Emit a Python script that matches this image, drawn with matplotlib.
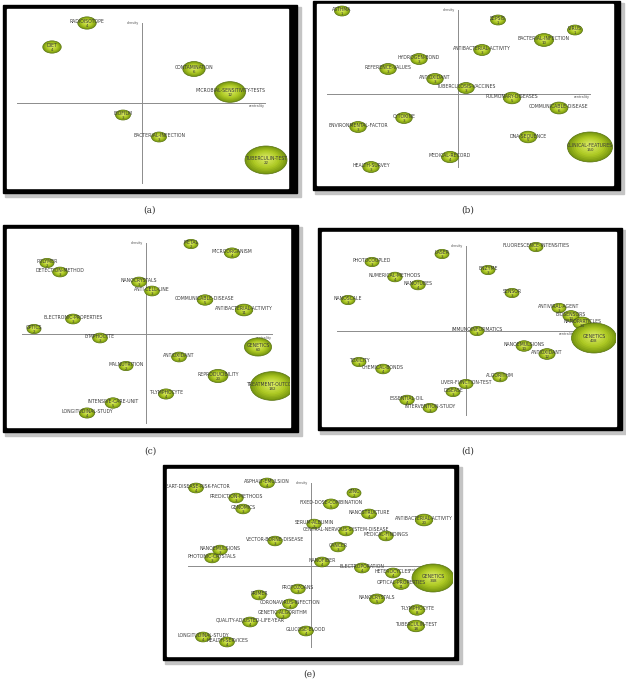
import matplotlib
matplotlib.use("Agg")
import matplotlib.pyplot as plt
from matplotlib.patches import Ellipse, Rectangle
import numpy as np

# ---------------- data (centrality / density relative to the cross, counts) -------------
a_labels = ["RADIOISOTOPE", "DIET", "CONTAMINATION", "MICROBIAL-SENSITIVITY-TESTS",
            "BIOFILM", "BACTERIAL-INFECTION", "TUBERCULIN-TEST"]
a_centrality = [-55, -90, 52, 88, -19, 17, 124]
a_density = [80, 56, 34, 11, -12, -34, -57]
a_counts = [4, 4, 6, 12, 3, 3, 22]

b_labels = ["ASTHMA", "SEPSIS", "VIRUS", "BACTERIAL-INFECTION", "ANTIBACTERIAL-ACTIVITY",
            "HYDROGEN-BOND", "REFERENCE-VALUES", "ANTIOXIDANT", "TUBERCULOSIS-VACCINES",
            "PULMONARY-DISEASES", "COMMUNICABLE-DISEASE", "CYTOKINE", "ENVIRONMENTAL-FACTOR",
            "DNA-SEQUENCE", "CLINICAL-FEATURES", "MEDICAL-RECORD", "HEALTH-SURVEY"]
b_centrality = [-116, 40, 117, 86, 24, -39, -70, -23, 8, 54, 101, -54, -100, 70, 132, -8, -87]
b_density = [83, 74, 64, 54, 44, 35, 25, 15, 6, -4, -14, -24, -33, -43, -53, -63, -73]
b_counts = [1, 1, 1, 10, 3, 3, 3, 3, 3, 5, 6, 3, 3, 5, 150, 4, 3]

c_labels = ["METAL", "MICROORGANISM", "POLYMER", "DETECTION-METHOD", "NANOCRYSTALS",
            "ANTI-CELL-LINE", "COMMUNICABLE-DISEASE", "ANTIBACTERIAL-ACTIVITY",
            "ELECTRONIC-PROPERTIES", "OPTICS", "LYMPHOCYTE", "GENETICS", "ANTIOXIDANT",
            "MALNUTRITION", "REPRODUCIBILITY", "TREATMENT-OUTCOME", "T-LYMPHOCYTE",
            "INTENSIVE-CARE-UNIT", "LONGITUDINAL-STUDY"]
c_centrality = [45, 86, -99, -86, -7, 6, 59, 98, -73, -112, -46, 112, 33, -20, 72, 126, 20, -33, -59]
c_density = [90, 81, 71, 62, 52, 43, 34, 24, 15, 5, -4, -13, -23, -32, -42, -52, -60, -69, -79]
c_counts = [2, 4, 2, 3, 3, 3, 5, 11, 3, 2, 3, 60, 3, 2, 20, 182, 4, 5, 4]

d_labels = ["FLUORESCENCE-INTENSITIES", "LASER", "PHOTOCOUPLED", "ENZYME", "NUMERICAL-METHODS",
            "NANOTUBES", "SENSOR", "NANOSCALE", "ANTIVIRAL-AGENT", "BIOSENSORS",
            "NANOPARTICLES", "IMMUNOINFORMATICS", "GENETICS", "NANOEMULSIONS", "ANTIOXIDANT",
            "TOXICITY", "CHEMICAL-BONDS", "ALGORITHM", "LIVER-FUNCTION-TEST", "DISEASE",
            "ESSENTIAL-OIL", "INTERVENTION-STUDY"]
d_centrality = [70, -24, -94, 22, -71, -48, 46, -118, 93, 105, 116, 11, 128, 58, 81, -107, -83, 34, 0, -13, -59, -36]
d_density = [84, 77, 69, 61, 54, 46, 38, 31, 23, 15, 8, 0, -7, -15, -23, -31, -38, -46, -53, -61, -69, -77]
d_counts = [3, 3, 3, 3, 4, 4, 3, 3, 3, 12, 24, 3, 408, 10, 12, 3, 4, 4, 3, 3, 4, 3]

e_labels = ["HEART-DISEASE-RISK-FACTOR", "ASPHALT-EMULSION", "PREDICTION-METHODS", "GENOMICS",
            "ZINC", "FIXED-DOSE-COMBINATION", "NANOSTRUCTURE", "ANTIBACTERIAL-ACTIVITY",
            "SERUM-ALBUMIN", "CENTRAL-NERVOUS-SYSTEM-DISEASE", "MEDICAL-FINDINGS",
            "VECTOR-BORNE-DISEASE", "CANCER", "NANOEMULSIONS", "PHOTONIC-CRYSTALS", "NANOFIBER",
            "ELECTROPORATION", "HETEROCYCLES", "GENETICS", "OPTICAL-PROPERTIES", "PROTOZOANS",
            "PRIMER", "NANOCRYSTALS", "CORONAVIRUS-INFECTION", "T-LYMPHOCYTE",
            "GENETIC-ALGORITHM", "QUALITY-ADJUSTED-LIFE-YEAR", "TUBERCULIN-TEST",
            "GLUCOSE-BLOOD", "LONGITUDINAL-STUDY", "HEALTH-SERVICES"]
e_centrality = [-115, -44, -75, -68, 43, 20, 58, 113, 3, 35, 75, -36, 27, -91, -99, 11, 51, 82,
                122, 90, -13, -52, 66, -21, 106, -28, -61, 105, -5, -108, -84]
e_density = [78, 83, 68, 57, 73, 62, 52, 46, 42, 35, 30, 25, 19, 16, 8, 4, -2, -7, -12, -18,
             -23, -29, -33, -38, -44, -48, -56, -60, -65, -71, -76]
e_counts = [4, 4, 3, 3, 2, 5, 4, 20, 3, 3, 3, 3, 3, 3, 3, 4, 4, 4, 348, 11, 3, 3, 5, 4, 8, 3,
            4, 18, 4, 4, 4]

panel_tags = ["(a)", "(b)", "(c)", "(d)", "(e)"]

# ---------------- layout (pixels of the 626x683 canvas) ----------------
W, H = 626, 683
panels = [
    dict(outer=(3, 5, 297, 193), inner=(7, 9, 288, 188), origin=(142, 103),
         v=(80, -80), h=(-125, 123), tag=(150, 210), w=(15, 42)),
    dict(outer=(313, 1, 620, 190), inner=(317, 4, 613, 185), origin=(458, 94),
         v=(84, -73), h=(-131, 132), tag=(468, 210), w=(15, 45)),
    dict(outer=(3, 225, 298, 432), inner=(7, 229, 290, 427), origin=(146, 334),
         v=(91, -89), h=(-124, 126), tag=(150, 451), w=(14, 43)),
    dict(outer=(318, 228, 622, 430), inner=(322, 232, 616, 426), origin=(466, 331),
         v=(85, -84), h=(-129, 109), tag=(468, 451), w=(14, 45)),
    dict(outer=(163, 465, 458, 660), inner=(167, 469, 453, 656), origin=(311, 566),
         v=(83, -81), h=(-123, 114), tag=(309, 674), w=(14, 42)),
]
datasets = [
    (a_labels, a_centrality, a_density, a_counts),
    (b_labels, b_centrality, b_density, b_counts),
    (c_labels, c_centrality, c_density, c_counts),
    (d_labels, d_centrality, d_density, d_counts),
    (e_labels, e_centrality, e_density, e_counts),
]

fig = plt.figure(figsize=(W / 100, H / 100), dpi=100)
fig.patch.set_facecolor("white")
bg = fig.add_axes([0, 0, 1, 1])
bg.set_xlim(0, W)
bg.set_ylim(H, 0)
bg.axis("off")

edge_col = np.array([0.48, 0.60, 0.07])
mid_col = np.array([0.68, 0.79, 0.14])
ctr_col = np.array([0.86, 0.92, 0.40])


def bubble(ax, x, y, wdt):
    hgt = wdt / 1.5
    ax.add_patch(Ellipse((x, y), wdt, hgt, facecolor=edge_col, edgecolor="#55700c",
                         linewidth=0.5, zorder=3))
    n = 10
    for k in range(1, n):
        t = k / n
        s = 1 - 0.9 * t
        if t < 0.4:
            col = edge_col + (mid_col - edge_col) * (t / 0.4)
        else:
            col = mid_col + (ctr_col - mid_col) * ((t - 0.4) / 0.6)
        ax.add_patch(Ellipse((x, y + 0.06 * hgt * t), wdt * s, hgt * s, facecolor=col,
                             edgecolor="none", zorder=3))


for p, (labels, cx, cy, cnt), tag in zip(panels, datasets, panel_tags):
    x0, y0, x1, y1 = p["outer"]
    bg.add_patch(Rectangle((x0 + 2, y0 + 2), x1 - x0 + 2, y1 - y0 + 2, color="#c4c4c4", zorder=1))
    bg.add_patch(Rectangle((x0, y0), x1 - x0, y1 - y0, color="black", zorder=2))
    ix0, iy0, ix1, iy1 = p["inner"]
    bg.add_patch(Rectangle((ix0, iy0), ix1 - ix0, iy1 - iy0, color="white", zorder=3))
    bg.text(p["tag"][0], p["tag"][1], tag, ha="center", va="center", fontsize=6.5,
            family="DejaVu Serif", color="#333333")

    ox, oy = p["origin"]
    ax = fig.add_axes([ix0 / W, 1 - iy1 / H, (ix1 - ix0) / W, (iy1 - iy0) / H])
    ax.set_xlim(ix0 - ox, ix1 - ox)
    ax.set_ylim(oy - iy1, oy - iy0)
    ax.axis("off")
    ax.patch.set_alpha(0)

    ax.plot([0, 0], list(p["v"]), color="#8c8c8c", lw=0.7, zorder=1)
    ax.plot(list(p["h"]), [0, 0], color="#8c8c8c", lw=0.7, zorder=1)
    ax.text(-3, p["v"][0], "density", ha="right", va="center", fontsize=2.4, color="#555555")
    ax.text(p["h"][1] - 8, -1.5, "centrality", ha="center", va="top", fontsize=2.4,
            color="#555555", zorder=1)

    wmin, wmax = p["w"]
    cmin, cmax = min(cnt), max(cnt)
    for lab, x, y, c in zip(labels, cx, cy, cnt):
        frac = ((c - cmin) / (cmax - cmin)) ** 0.7 if cmax > cmin else 0
        wdt = wmin + (wmax - wmin) * frac
        bubble(ax, x, y, wdt)
        ax.text(x, y + 1.2, lab, ha="center", va="center", fontsize=3.3, color="#3a3a3a",
                zorder=5, clip_on=True)
        ax.text(x, y - 2.7, str(c), ha="center", va="center", fontsize=2.9, color="#3a3a3a",
                zorder=5, clip_on=True)

fig.savefig("out.png", dpi=100)
